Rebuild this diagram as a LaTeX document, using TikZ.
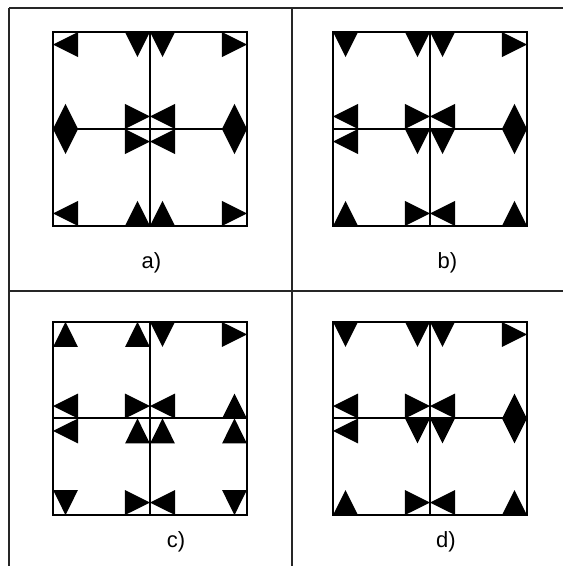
\documentclass[tikz,border=0pt]{standalone}
\usepackage{fontspec}
\setmainfont{Liberation Sans}
\usepackage{tikz}
\def\ts{0.258}
% filled triangle in a small cell next to grid point (#1,#2), cell towards (#3,#4), pointing at angle #5
\newcommand{\flagtri}[5]{\fill[shift={({#1+#3*\ts/2},{#2+#4*\ts/2})},rotate=#5,scale=\ts] (.5,0) -- (-.5,-.5) -- (-.5,.5) -- cycle;}
\begin{document}
\begin{tikzpicture}[x=1pt,y=1pt,
   frame/.style={draw,black!85,line width=1.2pt},
   grid/.style={draw,black,line width=2pt},
   lbl/.style={font=\fontsize{22}{26}\selectfont,inner sep=0pt}]
  \useasboundingbox (0,0) rectangle (563,566);
  % table lines
  \draw[frame] (9,558) -- (563,558);
  \draw[frame] (9,558) -- (9,0);
  \draw[frame] (9,275) -- (563,275);
  \draw[frame] (292,558) -- (292,0);
  % panel a
  \begin{scope}[shift={(53,340)},x=97pt,y=97pt]
    \draw[grid] (0,0) rectangle (2,2) (1,0) -- (1,2) (0,1) -- (2,1);
    \foreach \i/\j/\u/\v/\a in {0/2/1/-1/180, 1/2/-1/-1/-90, 1/2/1/-1/-90, 2/2/-1/-1/0,
        0/1/1/1/90, 0/1/1/-1/-90, 2/1/-1/1/90, 2/1/-1/-1/-90,
        1/1/-1/1/0, 1/1/1/1/180, 1/1/-1/-1/0, 1/1/1/-1/180,
        0/0/1/1/180, 1/0/-1/1/90, 1/0/1/1/90, 2/0/-1/1/0}
      \flagtri{\i}{\j}{\u}{\v}{\a};
  \end{scope}
  % panel b
  \begin{scope}[shift={(333,340)},x=97pt,y=97pt]
    \draw[grid] (0,0) rectangle (2,2) (1,0) -- (1,2) (0,1) -- (2,1);
    \foreach \i/\j/\u/\v/\a in {0/2/1/-1/-90, 1/2/-1/-1/-90, 1/2/1/-1/-90, 2/2/-1/-1/0,
        0/1/1/1/180, 0/1/1/-1/180, 2/1/-1/1/90, 2/1/-1/-1/-90,
        1/1/-1/1/0, 1/1/1/1/180, 1/1/-1/-1/-90, 1/1/1/-1/-90,
        0/0/1/1/90, 1/0/-1/1/0, 1/0/1/1/180, 2/0/-1/1/90}
      \flagtri{\i}{\j}{\u}{\v}{\a};
  \end{scope}
  % panel c
  \begin{scope}[shift={(53,51)},x=97pt,y=96.5pt]
    \draw[grid] (0,0) rectangle (2,2) (1,0) -- (1,2) (0,1) -- (2,1);
    \foreach \i/\j/\u/\v/\a in {0/2/1/-1/90, 1/2/-1/-1/90, 1/2/1/-1/-90, 2/2/-1/-1/0,
        0/1/1/1/180, 0/1/1/-1/180, 2/1/-1/1/90, 2/1/-1/-1/90,
        1/1/-1/1/0, 1/1/1/1/180, 1/1/-1/-1/90, 1/1/1/-1/90,
        0/0/1/1/-90, 1/0/-1/1/0, 1/0/1/1/180, 2/0/-1/1/-90}
      \flagtri{\i}{\j}{\u}{\v}{\a};
  \end{scope}
  % panel d
  \begin{scope}[shift={(333,51)},x=97pt,y=96.5pt]
    \draw[grid] (0,0) rectangle (2,2) (1,0) -- (1,2) (0,1) -- (2,1);
    \foreach \i/\j/\u/\v/\a in {0/2/1/-1/-90, 1/2/-1/-1/-90, 1/2/1/-1/-90, 2/2/-1/-1/0,
        0/1/1/1/180, 0/1/1/-1/180, 2/1/-1/1/90, 2/1/-1/-1/-90,
        1/1/-1/1/0, 1/1/1/1/180, 1/1/-1/-1/-90, 1/1/1/-1/-90,
        0/0/1/1/90, 1/0/-1/1/0, 1/0/1/1/180, 2/0/-1/1/90}
      \flagtri{\i}{\j}{\u}{\v}{\a};
  \end{scope}
  % labels
  \node[lbl] (la) at (151.5,303.5) {a)};
  \node[lbl] (lb) at (447.5,303.5) {b)};
  \node[lbl] (lc) at (176,24) {c)};
  \node[lbl] (ld) at (446,24) {d)};
\end{tikzpicture}
\end{document}
